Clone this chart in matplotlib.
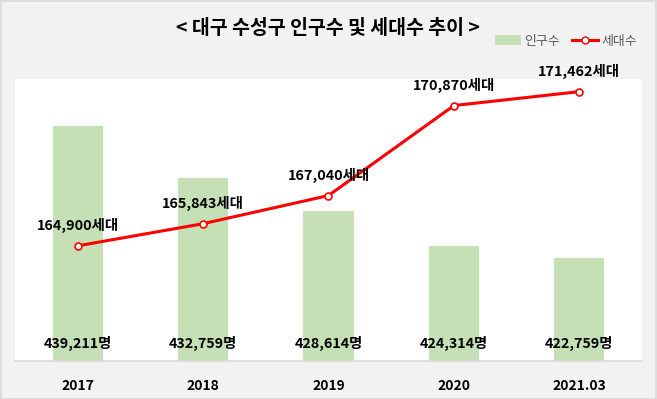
import matplotlib
matplotlib.use("Agg")
import matplotlib.pyplot as plt
from matplotlib.lines import Line2D
from matplotlib.patches import Patch, Rectangle

plt.rcParams['font.family'] = ['Noto Sans CJK KR', 'DejaVu Sans']

categories = ["2017", "2018", "2019", "2020", "2021.03"]
population = [439211, 432759, 428614, 424314, 422759]
households = [164900, 165843, 167040, 170870, 171462]
title = "< 대구 수성구 인구수 및 세대수 추이 >"

fig = plt.figure(figsize=(6.57, 3.99), dpi=100)
fig.patch.set_facecolor("#f2f2f2")
fig.patches.append(Rectangle((0.001, 0.001), 0.997, 0.996, transform=fig.transFigure,
                             fill=False, edgecolor="#d9d9d9", linewidth=1.2))

ax = fig.add_axes([15/657, 38/399, 627/657, 282/399])
ax.set_facecolor("white")
x = list(range(len(categories)))
ax.bar(x, population, width=0.4, color="#c5e0b4", zorder=2)
ax.set_ylim(410000, 445000)
ax.set_xlim(-0.5, len(categories) - 0.5)
ax.set_yticks([])
ax.set_xticks(x)
ax.set_xticklabels(categories, fontsize=10, fontweight="bold")
ax.tick_params(axis="x", length=0, pad=13)
for s in ["top", "left", "right"]:
    ax.spines[s].set_visible(False)
ax.spines["bottom"].set_color("#d9d9d9")
ax.spines["bottom"].set_linewidth(1.2)

for xi, v in zip(x, population):
    ax.annotate(f"{v:,}명", (xi, 410000), xytext=(0, 12.5), textcoords="offset points",
                ha="center", va="center", fontsize=10.3, fontweight="bold", zorder=5)

ax2 = ax.twinx()
ax2.set_ylim(160000, 172000)
ax2.set_yticks([])
for s in ["top", "left", "right", "bottom"]:
    ax2.spines[s].set_visible(False)
ax2.plot(x, households, color="#ff0000", linewidth=2.2, marker="o", markersize=5,
         markerfacecolor="white", markeredgecolor="#ff0000", markeredgewidth=1.2, zorder=3)
for xi, v in zip(x, households):
    ax2.annotate(f"{v:,}세대", (xi, v), xytext=(0, 14.5), textcoords="offset points",
                 ha="center", va="center", fontsize=10.4, fontweight="bold",
                 annotation_clip=False)

fig.text(328/657, 1 - 29/399, title, ha="center", va="center", fontsize=14, fontweight="bold")

handles = [Patch(facecolor="#c5e0b4", edgecolor="none"),
           Line2D([0], [0], color="#ff0000", linewidth=2.2, marker="o", markersize=5,
                  markerfacecolor="white", markeredgecolor="#ff0000")]
leg = fig.legend(handles, ["인구수", "세대수"], loc="center", bbox_to_anchor=(566/657, 1 - 41/399),
                 ncol=2, frameon=False, fontsize=9.3, handlelength=2.0, handletextpad=0.3,
                 columnspacing=0.9, labelcolor="#595959")

fig.savefig("out.png", dpi=100, facecolor=fig.get_facecolor())
